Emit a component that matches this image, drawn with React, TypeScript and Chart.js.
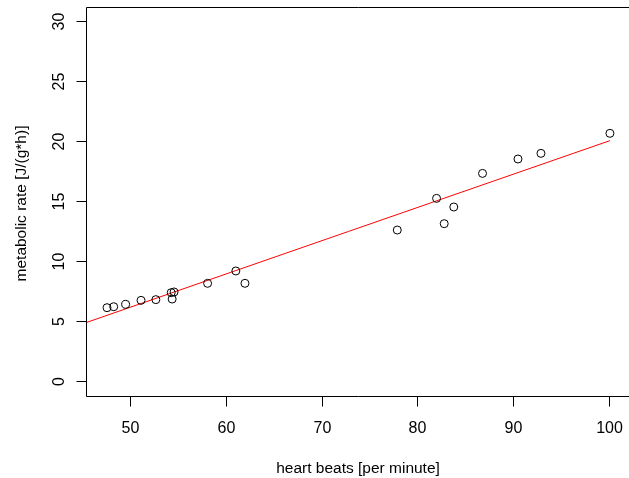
import React, { useEffect, useRef } from "react";
import { Chart, registerables } from "chart.js";

Chart.register(...registerables);

// Observed data: heart beats [per minute] vs metabolic rate [J/(g*h)]
const heartBeats = [47.6, 48.3, 49.55, 51.15, 52.7, 54.3, 54.6, 54.4, 58.1, 61.05, 62.0, 77.9, 82.0, 82.8, 83.8, 86.8, 90.5, 92.9, 100.1];
const metabolicRate = [6.11, 6.19, 6.39, 6.72, 6.78, 7.36, 7.42, 6.83, 8.14, 9.17, 8.14, 12.58, 15.22, 13.11, 14.5, 17.3, 18.5, 18.97, 20.64];

// Fitted regression line end points
const fitX = [45.5, 100.1];
const fitY = [4.89, 20.03];

const xTicks = [50, 60, 70, 80, 90, 100];
const yTicks = [0, 5, 10, 15, 20, 25, 30];
const xTitle = "heart beats [per minute]";
const yTitle = "metabolic rate [J/(g*h)]";

const TICK_FONT = "16px 'Liberation Sans', Arial, Helvetica, sans-serif";
const TITLE_FONT = "15.5px 'Liberation Sans', Arial, Helvetica, sans-serif";

const axesPlugin = {
  id: "rAxes",
  afterDraw(chart: any) {
    const { ctx, chartArea } = chart;
    const xs = chart.scales.x;
    const ys = chart.scales.y;
    const L = chartArea.left - 0.5;
    const T = chartArea.top + 0.5;
    const B = chartArea.bottom + 0.5;
    const W = chart.width + 2;
    ctx.save();
    ctx.fillStyle = "#fff";
    ctx.fillRect(chart.width - 4, 0, 10, chart.height);
    ctx.strokeStyle = "#000";
    ctx.lineWidth = 1;
    ctx.beginPath();
    ctx.moveTo(W, T);
    ctx.lineTo(L, T);
    ctx.lineTo(L, B);
    ctx.lineTo(W, B);
    ctx.stroke();

    ctx.fillStyle = "#000";
    ctx.font = TICK_FONT;
    // x ticks
    ctx.textAlign = "center";
    ctx.textBaseline = "alphabetic";
    xTicks.forEach((v) => {
      const px = Math.round(xs.getPixelForValue(v)) + 0.5;
      ctx.beginPath();
      ctx.moveTo(px, B);
      ctx.lineTo(px, B + 10);
      ctx.stroke();
      ctx.fillText(String(v), px, 433);
    });
    // y ticks (rotated labels)
    yTicks.forEach((v) => {
      const py = Math.round(ys.getPixelForValue(v)) + 0.5;
      ctx.beginPath();
      ctx.moveTo(L, py);
      ctx.lineTo(L - 10, py);
      ctx.stroke();
      ctx.save();
      ctx.translate(63.5, py);
      ctx.rotate(-Math.PI / 2);
      ctx.fillText(String(v), 0, 0);
      ctx.restore();
    });
    // titles
    ctx.font = TITLE_FONT;
    ctx.fillText(xTitle, (chartArea.left + chartArea.right) / 2, 473);
    ctx.save();
    ctx.translate(25.5, (chartArea.top + chartArea.bottom) / 2 + 2);
    ctx.rotate(-Math.PI / 2);
    ctx.fillText(yTitle, 0, 0);
    ctx.restore();
    ctx.restore();
  },
};

export default function App() {
  const ref = useRef<HTMLCanvasElement | null>(null);
  useEffect(() => {
    if (!ref.current) return;
    const chart = new Chart(ref.current, {
      type: "scatter",
      data: {
        datasets: [
          {
            type: "line",
            data: fitX.map((x, i) => ({ x, y: fitY[i] })),
            borderColor: "#ff0000",
            borderWidth: 1,
            pointRadius: 0,
            fill: false,
            order: 2,
          } as any,
          {
            data: heartBeats.map((x, i) => ({ x, y: metabolicRate[i] })),
            borderColor: "#000000",
            backgroundColor: "rgba(0,0,0,0)",
            borderWidth: 1,
            pointRadius: 4,
            order: 1,
          },
        ],
      },
      options: {
        animation: false,
        responsive: false,
        devicePixelRatio: 1,
        layout: { autoPadding: false, padding: { left: 87, top: 7, right: 0, bottom: 82 } },
        plugins: { legend: { display: false }, tooltip: { enabled: false } },
        scales: {
          x: { type: "linear", min: 45.511, max: 102.09, display: false },
          y: { type: "linear", min: -1.25, max: 31.167, display: false },
        },
      },
      plugins: [axesPlugin],
    });
    return () => chart.destroy();
  }, []);
  return (
    <div style={{ position: "fixed", left: 0, top: 0, width: 629, height: 478, background: "#fff" }}>
      <canvas ref={ref} width={629} height={478} style={{ display: "block" }} />
    </div>
  );
}
